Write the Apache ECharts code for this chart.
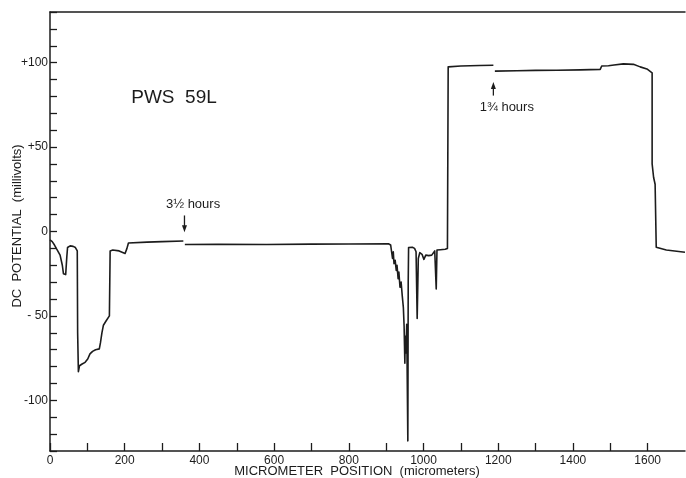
<!DOCTYPE html>
<html>
<head>
<meta charset="utf-8">
<script src="https://cdn.jsdelivr.net/npm/echarts/dist/echarts.min.js"></script>
<style>
  html, body { margin: 0; padding: 0; background: #fff; }
  #chart { width: 686px; height: 478px; }
</style>
</head>
<body>
<div id="chart"></div>
<script>
// Micrometer position (micrometers) of each reading along the track
const positions = [
  0, 6, 12, 18, 27, 33, 36, 42, 45, 47, 54, 62, 68, 73,
  74, 76, 79, 86, 94, 101, 107, 114, 122, 132, 135, 139, 143, 150, 159,
  161, 168, 185, 201, 206, 210, 260, 300, 357,
  359,
  361, 450, 580, 700, 800, 906,
  912, 915, 917, 919, 921, 924, 927, 929, 932, 934, 937, 940, 943, 946,
  948, 949, 950, 951, 953, 955, 958, 959, 960, 964, 970, 976, 980, 983,
  986, 990, 996, 1001, 1006, 1014, 1022, 1030, 1033, 1034, 1036, 1045,
  1058, 1064,
  1066, 1070, 1100, 1150, 1187,
  1189,
  1191, 1250, 1300, 1357, 1420, 1473, 1477, 1495, 1510, 1535, 1562, 1580,
  1598, 1612, 1612, 1616, 1620, 1623, 1650, 1700
];
// DC potential (millivolts); '-' marks a pen lift in the trace
const potentials = [
  -5, -6, -8, -10.5, -14, -20, -25, -25.5, -15, -9.5, -8.5, -8.8, -9.5, -11.5,
  -60, -83, -79.5, -78.5, -77.5, -75.5, -72.5, -71, -70, -69.5, -66, -60, -55.5, -53, -50,
  -11.5, -11, -11.5, -13, -10, -6.8, -6.3, -6, -5.6,
  '-',
  -7.7, -7.6, -7.7, -7.5, -7.4, -7.3,
  -8, -9, -16, -12, -19, -17, -23, -20, -28, -24, -33, -30, -38, -45,
  -56, -67, -78, -62, -72, -55, -124, -30, -9.5, -8.7, -9.3, -10, -12, -51.5,
  -16, -12.5, -13.5, -16.5, -14, -14.3, -14, -11.5, -11.3, -34, -11, -10.8,
  -10.5, -10,
  97.5, 97.8, 98, 98.3, 98.5,
  '-',
  95, 95.2, 95.4, 95.5, 95.7, 96, 98, 98.2, 98.6, 99.3, 99, 97.5,
  96.3, 94, 40, 32, 28, -9.3, -11, -12.3
];

// Axis ranges and tick labels
const xRange = [0, 1700];
const yRange = [-130, 130];
const xTickLabels = ['0', '200', '400', '600', '800', '1000', '1200', '1400', '1600'];
const yTickLabels = { '-100': '-100', '-50': '- 50', '0': '0', '50': '+50', '100': '+100' };

// Notes written on the trace
const specimenLabel = 'PWS  59L';
const noteTexts = ['3½ hours', '1¾ hours'];
const noteArrowX = [360, 1187];

const ink = '#1c1c1c';
const font = '"Liberation Sans", Arial, sans-serif';

const chart = echarts.init(document.getElementById('chart'), null, { renderer: 'canvas' });

const traceData = positions.map((x, i) => [x, potentials[i]]);

chart.setOption({
  animation: false,
  backgroundColor: '#fff',
  grid: { left: 50, right: 1, top: 12, bottom: 27, containLabel: false },
  xAxis: [
    {
      type: 'value', position: 'bottom', min: xRange[0], max: xRange[1], interval: 100,
      axisLine: { show: true, onZero: false, lineStyle: { color: ink, width: 1.5 } },
      axisTick: { show: true, inside: true, length: 8, lineStyle: { color: ink, width: 1.3 } },
      axisLabel: {
        show: true, margin: 4, color: ink, fontFamily: font, fontSize: 12,
        showMaxLabel: false,
        formatter: v => (xTickLabels.includes(String(v)) ? String(v) : '')
      },
      splitLine: { show: false }
    },
    {
      type: 'value', position: 'top', min: xRange[0], max: xRange[1],
      axisLine: { show: true, onZero: false, lineStyle: { color: ink, width: 1.5 } },
      axisTick: { show: false }, axisLabel: { show: false }, splitLine: { show: false }
    }
  ],
  yAxis: {
    type: 'value', min: yRange[0], max: yRange[1], interval: 10,
    axisLine: { show: true, onZero: false, lineStyle: { color: ink, width: 1.5 } },
    axisTick: { show: true, inside: true, length: 7, lineStyle: { color: ink, width: 1.3 } },
    axisLabel: {
      show: true, margin: 2, color: ink, fontFamily: font, fontSize: 12,
      formatter: v => (yTickLabels[String(v)] !== undefined ? yTickLabels[String(v)] : '')
    },
    splitLine: { show: false }
  },
  series: [{
    type: 'line',
    xAxisIndex: 0,
    data: traceData,
    showSymbol: false,
    connectNulls: false,
    lineStyle: { color: ink, width: 1.6, join: 'round' },
    silent: true
  }]
});

// Annotations placed in data coordinates
const px = (x, y) => chart.convertToPixel({ gridIndex: 0 }, [x, y]);

function arrow(x, yTail, yTip) {
  const a = px(x, yTail), b = px(x, yTip);
  const dir = b[1] > a[1] ? 1 : -1;
  return [
    { type: 'line', shape: { x1: a[0], y1: a[1], x2: b[0], y2: b[1] - dir * 5 },
      style: { stroke: ink, lineWidth: 1.3 } },
    { type: 'polygon', shape: { points: [[b[0], b[1]], [b[0] - 2.5, b[1] - dir * 7], [b[0] + 2.5, b[1] - dir * 7]] },
      style: { fill: ink } }
  ];
}

function note(text, x, y, size) {
  const p = px(x, y);
  return { type: 'text', x: p[0], y: p[1],
    style: { text: text, fill: ink, font: size + 'px ' + font, textAlign: 'center', textVerticalAlign: 'middle' } };
}

const yTitlePos = [17, 226];
chart.setOption({
  graphic: [
    note(specimenLabel, 332, 79.5, 19),
    note(noteTexts[0], 383, 16, 13),
    ...arrow(noteArrowX[0], 9.5, -0.5),
    note(noteTexts[1], 1223, 73.2, 13),
    ...arrow(noteArrowX[1], 80.5, 88.5),
    { type: 'text', x: 357, y: 471,
      style: { text: 'MICROMETER  POSITION  (micrometers)', fill: ink, font: '13px ' + font,
               textAlign: 'center', textVerticalAlign: 'middle' } },
    { type: 'text', x: yTitlePos[0], y: yTitlePos[1], rotation: Math.PI / 2,
      style: { text: 'DC  POTENTIAL  (millivolts)', fill: ink, font: '13px ' + font,
               textAlign: 'center', textVerticalAlign: 'middle' } }
  ]
});
</script>
</body>
</html>
